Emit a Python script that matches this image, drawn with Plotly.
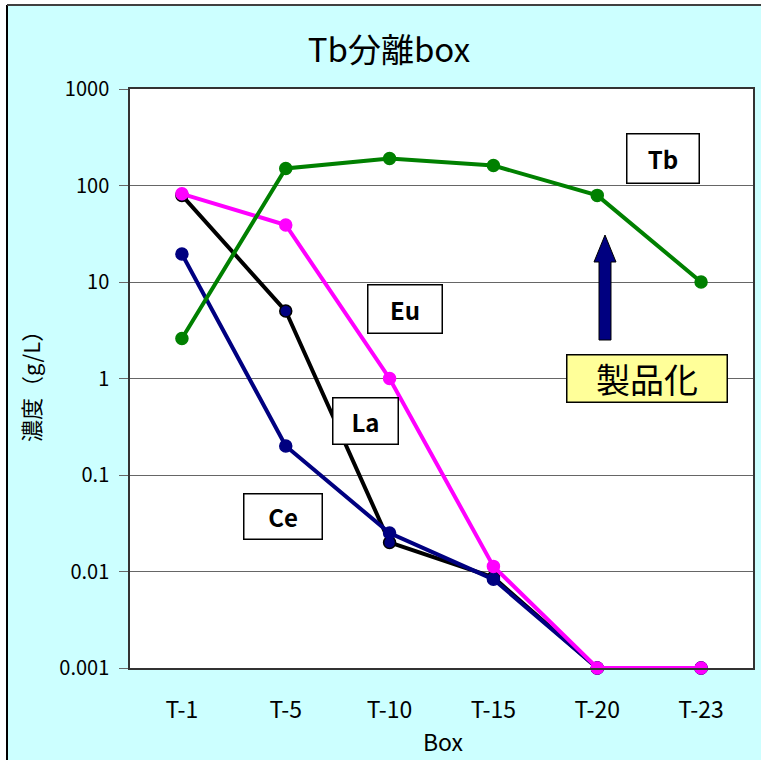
import plotly.graph_objects as go

# Sample boxes along the separation line
boxes = ["T-1", "T-5", "T-10", "T-15", "T-20", "T-23"]

# Concentrations (g/L) per element
la = [79, 5.0, 0.020, 0.0087, 0.001, 0.001]
ce = [19.5, 0.20, 0.025, 0.0083, 0.001, 0.001]
eu = [82, 39, 1.0, 0.0113, 0.001, 0.001]
tb = [2.6, 150, 190, 161, 79, 10]

y_ticks = [0.001, 0.01, 0.1, 1, 10, 100, 1000]
y_tick_text = ["0.001", "0.01", "0.1", "1", "10", "100", "1000"]

FONT = "Noto Sans CJK JP, Noto Sans, sans-serif"
W, H = 761, 760
ML, MR, MT, MB = 130, 8, 89, 92
PW, PH = W - ML - MR, H - MT - MB


def px(x):
    """pixel column -> paper x"""
    return (x - ML) / PW


def py(y):
    """pixel row -> paper y"""
    return (H - MB - y) / PH


fig = go.Figure()

series = [
    ("La", la, "#000000", "#000080", "#000000"),
    ("Ce", ce, "#000080", "#000080", "#000080"),
    ("Eu", eu, "#FF00FF", "#FF00FF", "#FF00FF"),
    ("Tb", tb, "#008000", "#008000", "#008000"),
]
for name, vals, lc, mfill, mline in series:
    fig.add_trace(go.Scatter(
        x=boxes, y=vals, name=name, mode="lines+markers",
        line=dict(color=lc, width=4),
        marker=dict(size=12, color=mfill, line=dict(color=mline, width=1.5)),
        showlegend=False, cliponaxis=False,
    ))

shapes = []
# chart frame: white margin strips, then the dark border lines
shapes.append(dict(type="rect", xref="paper", yref="paper",
                   x0=px(-5), x1=px(7), y0=py(H + 5), y1=py(-5),
                   fillcolor="white", line=dict(width=0), layer="below"))
shapes.append(dict(type="rect", xref="paper", yref="paper",
                   x0=px(-5), x1=px(W + 5), y0=py(5), y1=py(-5),
                   fillcolor="white", line=dict(width=0), layer="below"))
shapes.append(dict(type="line", xref="paper", yref="paper",
                   x0=px(7), x1=px(7), y0=py(5), y1=py(H + 5),
                   line=dict(color="#000000", width=2)))
shapes.append(dict(type="line", xref="paper", yref="paper",
                   x0=px(7), x1=px(W + 5), y0=py(5), y1=py(5),
                   line=dict(color="#404040", width=2)))

# category tick marks on the axis crossing at 1
for k in range(len(boxes) - 1):
    shapes.append(dict(type="line", xref="x", yref="y", ysizemode="pixel",
                       yanchor=1, x0=k + 0.5, x1=k + 0.5, y0=0, y1=-6,
                       line=dict(color="#000000", width=1)))

# upward arrow pointing at the Tb product boxes
cx = 605
arrow = [(cx - 6, 340), (cx - 6, 262), (cx - 11, 262), (cx, 235),
         (cx + 11, 262), (cx + 6, 262), (cx + 6, 340)]
path = "M " + " L ".join(f"{px(a):.5f},{py(b):.5f}" for a, b in arrow) + " Z"
shapes.append(dict(type="path", xref="paper", yref="paper", path=path,
                   fillcolor="#000080", line=dict(color="#000000", width=1)))

fig.update_layout(shapes=shapes)

# element labels in framed boxes
boxes_px = [
    ("Tb", 626, 133, 699, 183, "white", 24, True),
    ("Eu", 367, 284, 442, 333, "white", 24, True),
    ("La", 332, 397, 398, 444, "white", 24, True),
    ("Ce", 243, 493, 322, 539, "white", 24, True),
    ("製品化", 566, 355, 727, 403, "#FFFF99", 34, False),
]
for text, x0, y0, x1, y1, bg, fs, bold in boxes_px:
    fig.add_annotation(
        xref="paper", yref="paper",
        x=px((x0 + x1) / 2), y=py((y0 + y1) / 2),
        xanchor="center", yanchor="middle",
        text=f"<b>{text}</b>" if bold else text,
        showarrow=False, width=x1 - x0 - 2, height=y1 - y0 - 2,
        bgcolor=bg, bordercolor="#000000", borderwidth=1.5, borderpad=0,
        font=dict(family=FONT, size=fs, color="#000000"),
    )

# axis titles
fig.add_annotation(xref="paper", yref="paper", x=px(443), y=py(741),
                   text="Box", showarrow=False,
                   xanchor="center", yanchor="middle",
                   font=dict(family=FONT, size=23, color="#000000"))
fig.add_annotation(xref="paper", yref="paper", x=px(30), y=py(381),
                   text="濃度（g/L）", showarrow=False, textangle=-90,
                   xanchor="center", yanchor="middle",
                   font=dict(family=FONT, size=22, color="#000000"))

fig.update_layout(
    width=W, height=H,
    margin=dict(l=ML, r=MR, t=MT, b=MB, autoexpand=False),
    paper_bgcolor="#CCFFFF",
    plot_bgcolor="#FFFFFF",
    title=dict(text="Tb分離box", xref="container", yref="container",
               x=389 / W, xanchor="center",
               y=(H - 50) / H, yanchor="middle",
               font=dict(family=FONT, size=33, color="#000000")),
    font=dict(family=FONT, color="#000000"),
)

fig.update_xaxes(
    type="category", range=[-0.5, len(boxes) - 0.5],
    showgrid=False, ticks="", showline=True, mirror=True,
    linecolor="#333333", linewidth=1.5,
    tickfont=dict(family=FONT, size=23), ticklabelstandoff=21,
    zeroline=False,
)
fig.update_yaxes(
    type="log", range=[-3, 3],
    tickvals=y_ticks, ticktext=y_tick_text,
    showgrid=True, gridcolor="#666666", gridwidth=1,
    ticks="outside", ticklen=9, tickcolor="#666666",
    showline=True, mirror=True, linecolor="#333333", linewidth=1.5,
    tickfont=dict(family=FONT, size=20), ticklabelstandoff=6,
    zeroline=False,
)

fig.write_html("out.html")
